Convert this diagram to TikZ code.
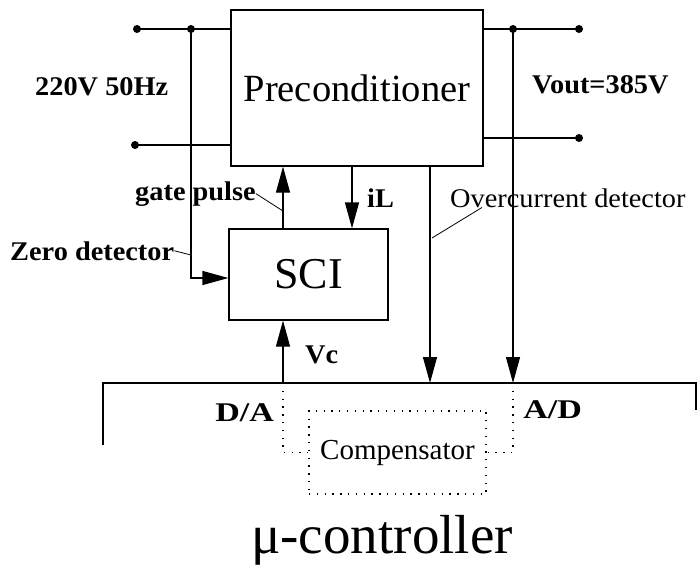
\documentclass[tikz,border=0pt]{standalone}
\usepackage{fontspec}
\setmainfont{Liberation Serif}
\usetikzlibrary{arrows.meta}

\tikzset{
  blk/.style={draw, line width=1.2pt, inner sep=0pt},
  wire/.style={line width=1.2pt},
  sig/.style={line width=1.2pt, -{Triangle[length=26pt,width=14pt]}},
  dotline/.style={line width=1.3pt, dash pattern=on 1.3pt off 6.5pt},
  term/.style={circle, fill, inner sep=0pt, minimum size=8pt},
  lbl/.style={inner sep=0pt, anchor=base west, xscale=1.05,
    font=\bfseries\fontsize{27}{30}\selectfont},
}

\begin{document}
\begin{tikzpicture}[x=1pt, y=-1pt]
    \useasboundingbox (0,0) rectangle (697,566);

    % blocks
    \node[blk, minimum width=252pt, minimum height=156pt,
      font=\fontsize{38.5}{40}\selectfont] (pre) at (357,88) {Preconditioner};
    \node[blk, minimum width=159pt, minimum height=91pt,
      font=\fontsize{44}{46}\selectfont] (sci) at (308.5,274.5) {SCI};
    \node[blk, dotline, minimum width=177pt, minimum height=83pt,
      font=\fontsize{29}{32}\selectfont] (comp) at (397.5,452.5) {Compensator};

    % micro-controller frame and its ports
    \draw[wire] (103,445) -- (103,383) -- (696,383) -- (696,410);
    \coordinate (da) at (283,383);
    \coordinate (oc) at (430,383);
    \coordinate (ad) at (513,383);
    \coordinate (il) at (352,0);

    % mains side
    \node[term] (ac1) at (137,29) {};
    \node[term] (zj) at (191,29) {};
    \node[term] (ac2) at (135,145) {};
    \draw[wire] (ac1.center) -- (pre.west |- ac1);
    \draw[wire] (ac2.center) -- (pre.west |- ac2);
    \draw[sig] (zj.center) |- ([yshift=-3.5pt]sci.west);

    % output side
    \node[term] (oj) at (513,29) {};
    \node[term] (vo1) at (579,29) {};
    \node[term] (vo2) at (579,138) {};
    \draw[wire] (pre.east |- vo1) -- (vo1.center);
    \draw[wire] (pre.east |- vo2) -- (vo2.center);
    \draw[sig] (oj.center) -- (ad);

    % signals
    \draw[sig] (sci.north -| da) -- (pre.south -| da);
    \draw[sig] (pre.south -| il) -- (sci.north -| il);
    \draw[sig] (da) -- (sci.south -| da);
    \draw[sig] (pre.south -| oc) -- (oc);
    \draw[dotline] (da) |- (comp.west);
    \draw[dotline] (ad) |- (comp.east);

    % labels
    \node[lbl] (ac) at (35,95) {220V 50Hz};
    \node[lbl] (vout) at (532,93) {Vout=385V};
    \node[lbl] (gp) at (135,200) {gate pulse};
    \node[lbl] (zd) at (10,260) {Zero detector};
    \node[lbl, font=\fontsize{27}{30}\selectfont] (ocd) at (450,207) {Overcurrent detector};
    \node[lbl] (iltxt) at (367,207) {iL};
    \node[lbl] (vc) at (305,363) {Vc};
    \node[lbl, xscale=1.2] (datxt) at (215,421) {D/A};
    \node[lbl, xscale=1.2] (adtxt) at (523,418) {A/D};
    \node[inner sep=0pt, anchor=base west, font=\fontsize{55}{58}\selectfont] (mc) at (251,553) {μ-controller};

    % leaders
    \coordinate (gpx) at (283,211);
    \coordinate (zdx) at (191,255);
    \coordinate (ocx) at (432,238);
    \draw[line width=0.8pt] (gp.east) -- (gpx);
    \draw[line width=0.8pt] (zd.east) -- (zdx);
    \draw[line width=0.8pt] ([xshift=32pt]ocd.south west) -- (ocx);
\end{tikzpicture}
\end{document}
